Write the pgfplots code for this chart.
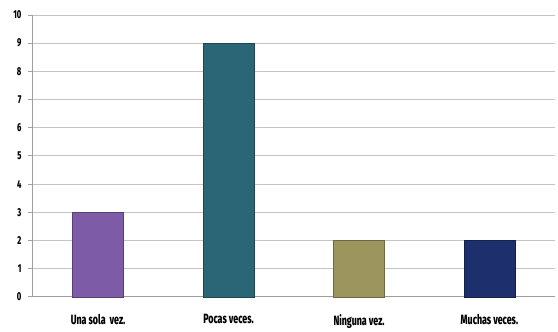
\documentclass[border=0pt]{standalone}
\usepackage{fontspec}
\setmainfont{Fira Sans}[FakeStretch=0.7, BoldFont={Fira Sans ExtraBold}, BoldFeatures={FakeStretch=0.66}]
\usepackage{pgfplots}
\pgfplotsset{compat=1.18}
\definecolor{cpurple}{HTML}{7D5BA6}
\definecolor{cteal}{HTML}{2B6676}
\definecolor{ckhaki}{HTML}{9C965E}
\definecolor{cnavy}{HTML}{1E2F6E}
\definecolor{gridc}{HTML}{C4C4C4}
\begin{document}
\begin{tikzpicture}
\begin{axis}[
  scale only axis,
  width=524pt, height=283pt,
  xmin=-0.5, xmax=3.5,
  ymin=0, ymax=10,
  ytick={0,...,10},
  xtick={0,1,2,3},
  xticklabels={Una sola\ \ vez.,Pocas veces.,Ninguna vez.,Muchas veces.},
  extra x ticks={-0.5,0.5,1.5,2.5,3.5},
  extra x tick labels={},
  extra x tick style={major tick length=5pt, tick style={gridc!80!black, line width=0.8pt}, tick align=outside, grid=none},
  major x tick style={draw=none},
  ymajorgrids,
  grid style={gridc, line width=0.8pt},
  axis x line*=bottom,
  axis y line*=left,
  axis line style={gridc!80!black, line width=0.8pt},
  y tick style={gridc!80!black, line width=0.8pt},
  tick align=outside,
  major tick length=5pt,
  x tick label style={font=\bfseries\fontsize{13.5}{14}\selectfont, yshift=-9pt},
  y tick label style={font=\bfseries\fontsize{11.5}{12}\selectfont, xshift=-3pt},
  /pgf/number format/assume math mode=true,
  clip=false,
  ybar, bar width=0.39, bar shift=0pt,
]
\addplot[fill=cpurple, draw=cpurple!70!black] coordinates {(0,3)};
\addplot[fill=cteal, draw=cteal!70!black] coordinates {(1,9)};
\addplot[fill=ckhaki, draw=ckhaki!70!black] coordinates {(2,2)};
\addplot[fill=cnavy, draw=cnavy!70!black] coordinates {(3,2)};
\path (rel axis cs:-0.063,-0.106) rectangle (rel axis cs:1.002,1.053);
\end{axis}
\end{tikzpicture}
\end{document}
